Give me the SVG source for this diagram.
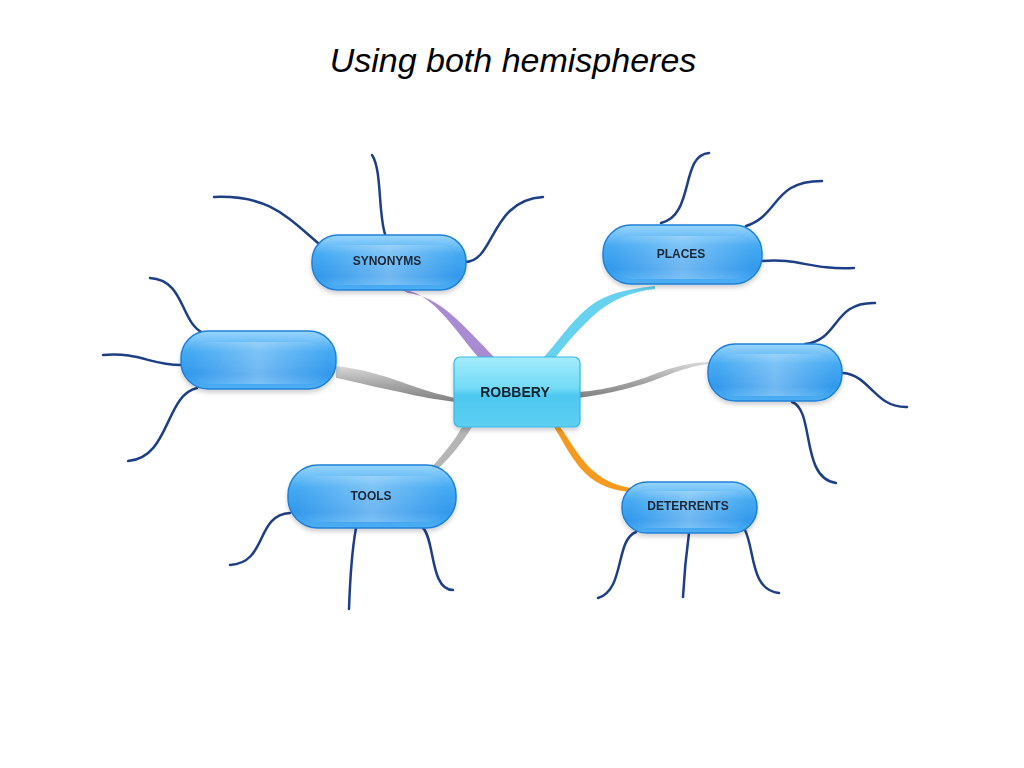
<svg xmlns="http://www.w3.org/2000/svg" width="1024" height="768" viewBox="0 0 1024 768">
<defs>
<linearGradient id="pill" x1="0" y1="0" x2="0" y2="1">
<stop offset="0" stop-color="#9ad6fc"/>
<stop offset="0.35" stop-color="#46aaf2"/>
<stop offset="0.75" stop-color="#3399ec"/>
<stop offset="1" stop-color="#4fb0f4"/>
</linearGradient>
<linearGradient id="sheen" x1="0" y1="0" x2="1" y2="0">
<stop offset="0" stop-color="#ffffff" stop-opacity="0"/>
<stop offset="0.5" stop-color="#ffffff" stop-opacity="0.3"/>
<stop offset="1" stop-color="#ffffff" stop-opacity="0"/>
</linearGradient>
<linearGradient id="center" x1="0" y1="0" x2="0" y2="1">
<stop offset="0" stop-color="#a4ecfc"/>
<stop offset="0.45" stop-color="#72daf6"/>
<stop offset="0.55" stop-color="#4ec8f0"/>
<stop offset="1" stop-color="#5ccff2"/>
</linearGradient>
<linearGradient id="gray" x1="0" y1="0" x2="0" y2="1">
<stop offset="0" stop-color="#d8d8d8"/>
<stop offset="0.5" stop-color="#a8a8a8"/>
<stop offset="1" stop-color="#808080"/>
</linearGradient>
<filter id="sh" x="-10%" y="-10%" width="120%" height="140%">
<feDropShadow dx="0" dy="3" stdDeviation="2" flood-color="#000" flood-opacity="0.18"/>
</filter>
<style>
.t{fill:none;stroke:#1d3f86;stroke-width:2.5;stroke-linecap:round}
.p{fill:url(#pill);stroke:#1f80d8;stroke-width:1.5}
.s{fill:url(#sheen)}
.lbl{font-family:"Liberation Sans",Arial,sans-serif;font-weight:bold;font-size:12px;fill:#1a2636;text-anchor:middle}
</style>
</defs>
<rect width="1024" height="768" fill="#ffffff"/>
<text x="513" y="72" font-family="Liberation Sans, Arial, sans-serif" font-style="italic" font-size="34" text-anchor="middle" fill="#000">Using both hemispheres</text>

<g id="connectors">
<path d="M400 289 C432 292 450 324 479 358 L495 358 C462 324 440 297 408 293 Z" fill="#a98bd4"/>
<path d="M655 286 C620 290 600 295 580 315 C565 330 555 345 543 358 L555 358 C565 345 578 330 592 317 C610 300 630 292 655 289 Z" fill="#66d2ef"/>
<path d="M336 366 C370 370 390 378 410 385 C430 392 445 396 456 398 L456 402 C440 400 420 397 400 392 C380 388 360 383 336 378 Z" fill="url(#gray)"/>
<path d="M578 392 C610 390 640 380 660 372 C680 365 695 362 710 362 L710 364 C695 365 680 370 660 378 C640 386 610 394 578 398 Z" fill="url(#gray)"/>
<path d="M462 427 C455 440 445 452 432 467 L440 467 C452 455 462 443 472 427 Z" fill="#b5b5b5"/>
<path d="M560 427 C570 440 575 452 590 468 C605 482 618 486 632 488 L632 492 C615 491 598 486 585 473 C572 460 564 443 554 427 Z" fill="#f39a1f"/>
</g>

<g id="tentacles">
<path class="t" d="M214 197 C268 195 285 215 318 243"/>
<path class="t" d="M372 155 C382 170 378 212 385 234"/>
<path class="t" d="M465 262 C495 262 490 200 543 197"/>
<path class="t" d="M709 153 C680 155 695 215 661 223"/>
<path class="t" d="M746 226 C780 215 772 181 822 181"/>
<path class="t" d="M762 261 C800 258 810 270 854 268"/>
<path class="t" d="M150 278 C185 280 180 322 203 333"/>
<path class="t" d="M103 355 C140 352 150 365 181 365"/>
<path class="t" d="M197 388 C165 395 170 458 128 461"/>
<path class="t" d="M805 344 C840 340 832 302 875 303"/>
<path class="t" d="M843 373 C870 375 875 408 907 407"/>
<path class="t" d="M792 402 C815 410 800 478 836 483"/>
<path class="t" d="M290 513 C255 515 268 563 230 565"/>
<path class="t" d="M356 528 C352 550 350 580 349 609"/>
<path class="t" d="M423 528 C435 540 430 590 453 590"/>
<path class="t" d="M636 532 C615 540 625 590 598 598"/>
<path class="t" d="M689 533 C686 555 684 578 683 597"/>
<path class="t" d="M745 530 C755 550 750 590 779 593"/>
</g>

<g id="synonyms" filter="url(#sh)">
<rect class="p" x="312" y="235" width="154" height="55" rx="26"/>
<rect class="s" x="320" y="245" width="138" height="40" rx="18"/>
<text class="lbl" x="387" y="265">SYNONYMS</text>
</g>
<g id="places" filter="url(#sh)">
<rect class="p" x="603" y="225" width="159" height="59" rx="28"/>
<rect class="s" x="611" y="236" width="143" height="43" rx="20"/>
<text class="lbl" x="681" y="258">PLACES</text>
</g>
<g id="left-blank" filter="url(#sh)">
<rect class="p" x="181" y="331" width="155" height="58" rx="27"/>
<rect class="s" x="189" y="342" width="139" height="42" rx="20"/>
</g>
<g id="right-blank" filter="url(#sh)">
<rect class="p" x="708" y="344" width="134" height="57" rx="27"/>
<rect class="s" x="716" y="354" width="118" height="42" rx="20"/>
</g>
<g id="tools" filter="url(#sh)">
<rect class="p" x="288" y="465" width="168" height="63" rx="30"/>
<rect class="s" x="296" y="476" width="152" height="46" rx="22"/>
<text class="lbl" x="371" y="500">TOOLS</text>
</g>
<g id="deterrents" filter="url(#sh)">
<rect class="p" x="622" y="482" width="135" height="51" rx="25"/>
<rect class="s" x="630" y="491" width="119" height="37" rx="18"/>
<text class="lbl" x="688" y="510">DETERRENTS</text>
</g>
<g id="robbery" filter="url(#sh)">
<rect x="454" y="357" width="126" height="70" rx="6" fill="url(#center)" stroke="#3ab8e6" stroke-width="1.2"/>
<text x="515" y="397" font-family="Liberation Sans, Arial, sans-serif" font-weight="bold" font-size="14" text-anchor="middle" fill="#10202c">ROBBERY</text>
</g>
</svg>
